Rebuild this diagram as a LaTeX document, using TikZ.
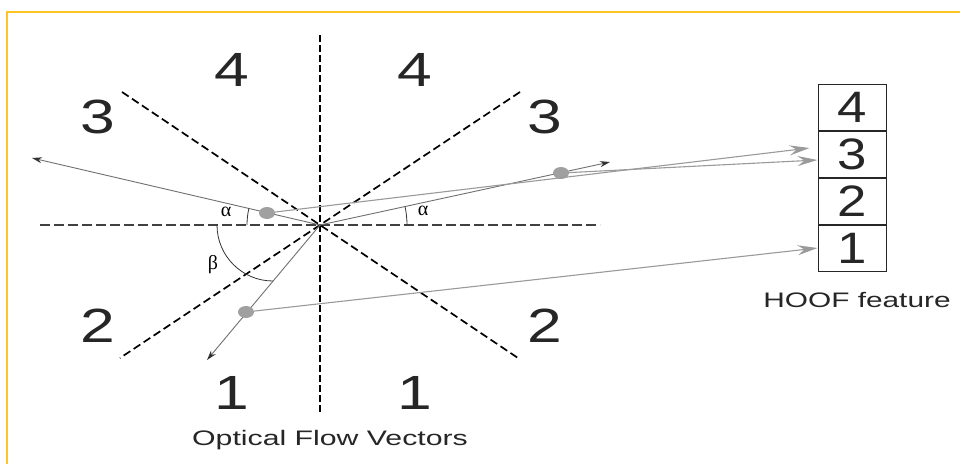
\documentclass[tikz,border=0pt]{standalone}
\usepackage{fontspec}
\setmainfont{Liberation Sans}
\newfontfamily\greekfont{Liberation Serif}
\usepackage{graphicx}
\usetikzlibrary{arrows.meta,shapes.geometric}
\definecolor{frameyellow}{HTML}{FFC425}
\definecolor{vecgray}{HTML}{707070}
\definecolor{linkgray}{HTML}{9A9A9A}
\definecolor{dotgray}{HTML}{A0A0A0}
\begin{document}
\begin{tikzpicture}[x=1pt,y=-1pt,
  frame/.style={draw=frameyellow,line width=2pt},
  vdiv/.style={draw=black,line width=1.7pt,dash pattern=on 7pt off 3pt},
  hdiv/.style={draw=black!75,line width=1.9pt,dash pattern=on 10pt off 4pt},
  ddiv/.style={draw=black,line width=1.7pt,dash pattern=on 8pt off 4pt},
  vec/.style={draw=vecgray,line width=0.9pt,-{Stealth[length=10pt,width=6pt,black!80]}},
  link/.style={draw=linkgray,line width=1.1pt,-{Stealth[length=20pt,width=10pt,inset=7pt,linkgray]}},
  flowdot/.style={ellipse,fill=dotgray,minimum width=16pt,minimum height=12pt,inner sep=0pt},
  sector/.style={inner sep=0pt,text=black!85,font=\fontsize{48}{48}\selectfont},
  cell/.style={draw=black!85,line width=1pt,minimum width=68pt,minimum height=46pt,inner sep=0pt,font=\fontsize{44}{44}\selectfont,text=black!85},
  anglearc/.style={draw=black!80,line width=0.8pt},
  anglelbl/.style={inner sep=0pt,font=\greekfont\fontsize{20}{20}\selectfont},
  caption/.style={inner sep=0pt,text=black!85,font=\fontsize{21}{21}\selectfont}
]
\useasboundingbox (0,0) rectangle (960,464);
\fill[white] (0,0) rectangle (960,464);
\draw[frame] (7,464) -- (7,12) -- (960,12);

% centre and dividing lines
\coordinate (C) at (320,225);
\coordinate (vt) at (320,35);
\coordinate (vb) at (320,415);
\coordinate (hl) at (40,225);
\coordinate (hr) at (600,225);
\coordinate (d1a) at (122,92);
\coordinate (d1b) at (518,358);
\coordinate (d2a) at (520,92);
\coordinate (d2b) at (120,358);
\draw[vdiv] (vt) -- (vb);
\draw[hdiv] (hl) -- (hr);
\draw[ddiv] (d1a) -- (d1b);
\draw[ddiv] (d2a) -- (d2b);

% sector numbers
\node[sector] (s4l) at (232,70) {\scalebox{1.3}[1]{4}};
\node[sector] (s4r) at (415,70) {\scalebox{1.3}[1]{4}};
\node[sector] (s3l) at (98,117) {\scalebox{1.3}[1]{3}};
\node[sector] (s3r) at (545,117) {\scalebox{1.3}[1]{3}};
\node[sector] (s2l) at (98,326) {\scalebox{1.3}[1]{2}};
\node[sector] (s2r) at (545,326) {\scalebox{1.3}[1]{2}};
\node[sector] (s1l) at (232,393) {\scalebox{1.3}[1]{1}};
\node[sector] (s1r) at (415,393) {\scalebox{1.3}[1]{1}};

% HOOF histogram
\node[cell] (c4) at (852,107) {\scalebox{1.2}[1]{4}};
\node[cell,anchor=north] (c3) at (c4.south) {\scalebox{1.2}[1]{3}};
\node[cell,anchor=north] (c2) at (c3.south) {\scalebox{1.2}[1]{2}};
\node[cell,anchor=north] (c1) at (c2.south) {\scalebox{1.2}[1]{1}};
\node[caption] (hoof) at (857,300) {\scalebox{1.42}[1]{HOOF feature}};
\node[caption] (ofv) at (330,440) {\scalebox{1.44}[1]{Optical Flow Vectors}};

% flow vectors
\coordinate (tl) at (32,158);
\coordinate (tr) at (610,162);
\coordinate (tb) at (207,360);
\draw[vec] (C) -- (tl);
\draw[vec] (C) -- (tr);
\draw[vec] (C) -- (tb);

% angle arcs
\draw[anglearc] ([shift={(180:73)}]C) arc[start angle=180,end angle=193.1,radius=73];
\draw[anglearc] ([shift={(0:87)}]C) arc[start angle=0,end angle=-12.3,radius=87];
\coordinate (bs) at (217,225);
\draw[anglearc] (bs) arc[start angle=180,end angle=90,radius=56];
\node[anglelbl] (al) at (226,212) {α};
\node[anglelbl] (ar) at (423,211) {α};
\node[anglelbl] (be) at (213,265) {β};

% dots and links
\node[flowdot] (pl) at (267,213) {};
\node[flowdot] (pr) at (561,173) {};
\node[flowdot] (pb) at (246,312) {};
\coordinate (e3a) at ([yshift=-6pt]c3.west);
\coordinate (e3b) at ([xshift=-8pt,yshift=6pt]c3.west);
\coordinate (e1) at (c1.west);
\draw[link] (pr) -- (e3a);
\draw[link] (pl) -- (e3b);
\draw[link] (pb) -- (e1);
\end{tikzpicture}
\end{document}
